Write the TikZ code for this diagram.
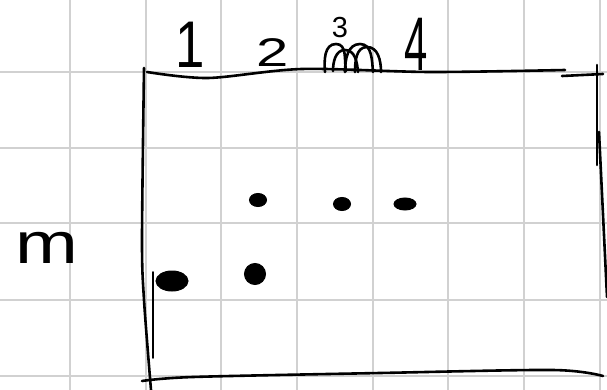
\documentclass[tikz,border=0pt]{standalone}
\usepackage{fontspec}
\setmainfont{Liberation Sans}
\usetikzlibrary{shapes.geometric}

\begin{document}
\begin{tikzpicture}[x=1pt, y=-1pt,
          gridline/.style={draw=black!18, line width=2pt},
          ink/.style={draw=black, line width=2.6pt, line cap=round, line join=round},
          label/.style={inner sep=0pt, anchor=base},
          dot/.style={ellipse, fill=black, draw=black, line width=1pt, inner sep=0pt}]
          \useasboundingbox (0,0) rectangle (607,390);
          % paper grid
          \foreach \gx in {70,146,221,297,373,448,524,600}
            \draw[gridline] (\gx,0) -- (\gx,390);
          \foreach \gy in {72,148,223,300,376}
            \draw[gridline] (0,\gy) -- (607,\gy);
          % matrix frame
          \draw[ink] plot[smooth] coordinates {(147,72) (208,78) (302,69) (430,72) (565,70)};
          \draw[ink] (562,76) -- (603,74);
          \draw[ink] (597,65) -- (597,165);
          \draw[ink] (599,132) -- (607,297);
          \draw[ink] plot[smooth] coordinates {(142,381) (193,377) (380,373) (553,370) (603,376)};
          \draw[ink] plot[smooth] coordinates {(144,68) (142,240) (144,300) (151,390)};
          \draw[ink, line width=1.6pt] (153,272) -- (153,358);
          % column and row labels
          \node[label, font=\fontsize{66}{66}\selectfont, xscale=0.8] (col1) at (190,68) {1};
          \node[label, font=\fontsize{40}{40}\selectfont, xscale=1.45] (col2) at (273,67) {2};
          \node[label, font=\fontsize{29}{29}\selectfont] (col3) at (340,38) {3};
          \node[label, font=\fontsize{76}{76}\selectfont, xscale=0.55] (col4) at (416,71) {4};
          \node[label, font=\fontsize{58}{58}\selectfont, xscale=1.3] (rowm) at (47,263) {m};
          % scribble under the 3
          \draw[ink] (325,72) to[out=95,in=180] (336,44) to[out=0,in=100] (346,71);
          \draw[ink] (333,71) to[out=90,in=180] (345,50) to[out=0,in=95] (358,72);
          \draw[ink] (345,72) to[out=90,in=180] (360,44) to[out=0,in=95] (373,72);
          \draw[ink] (355,72) to[out=90,in=180] (367,47) to[out=0,in=90] (381,72);
          % entries
          \node[dot, minimum width=17, minimum height=13] (e12) at (258,200) {};
          \node[dot, minimum width=17, minimum height=13] (e13) at (342,204) {};
          \node[dot, minimum width=22, minimum height=12] (e14) at (405,204) {};
          \node[dot, minimum width=32, minimum height=20] (e21) at (172,281) {};
          \node[dot, minimum width=21, minimum height=21] (e22) at (255,274) {};
        \end{tikzpicture}
\end{document}
